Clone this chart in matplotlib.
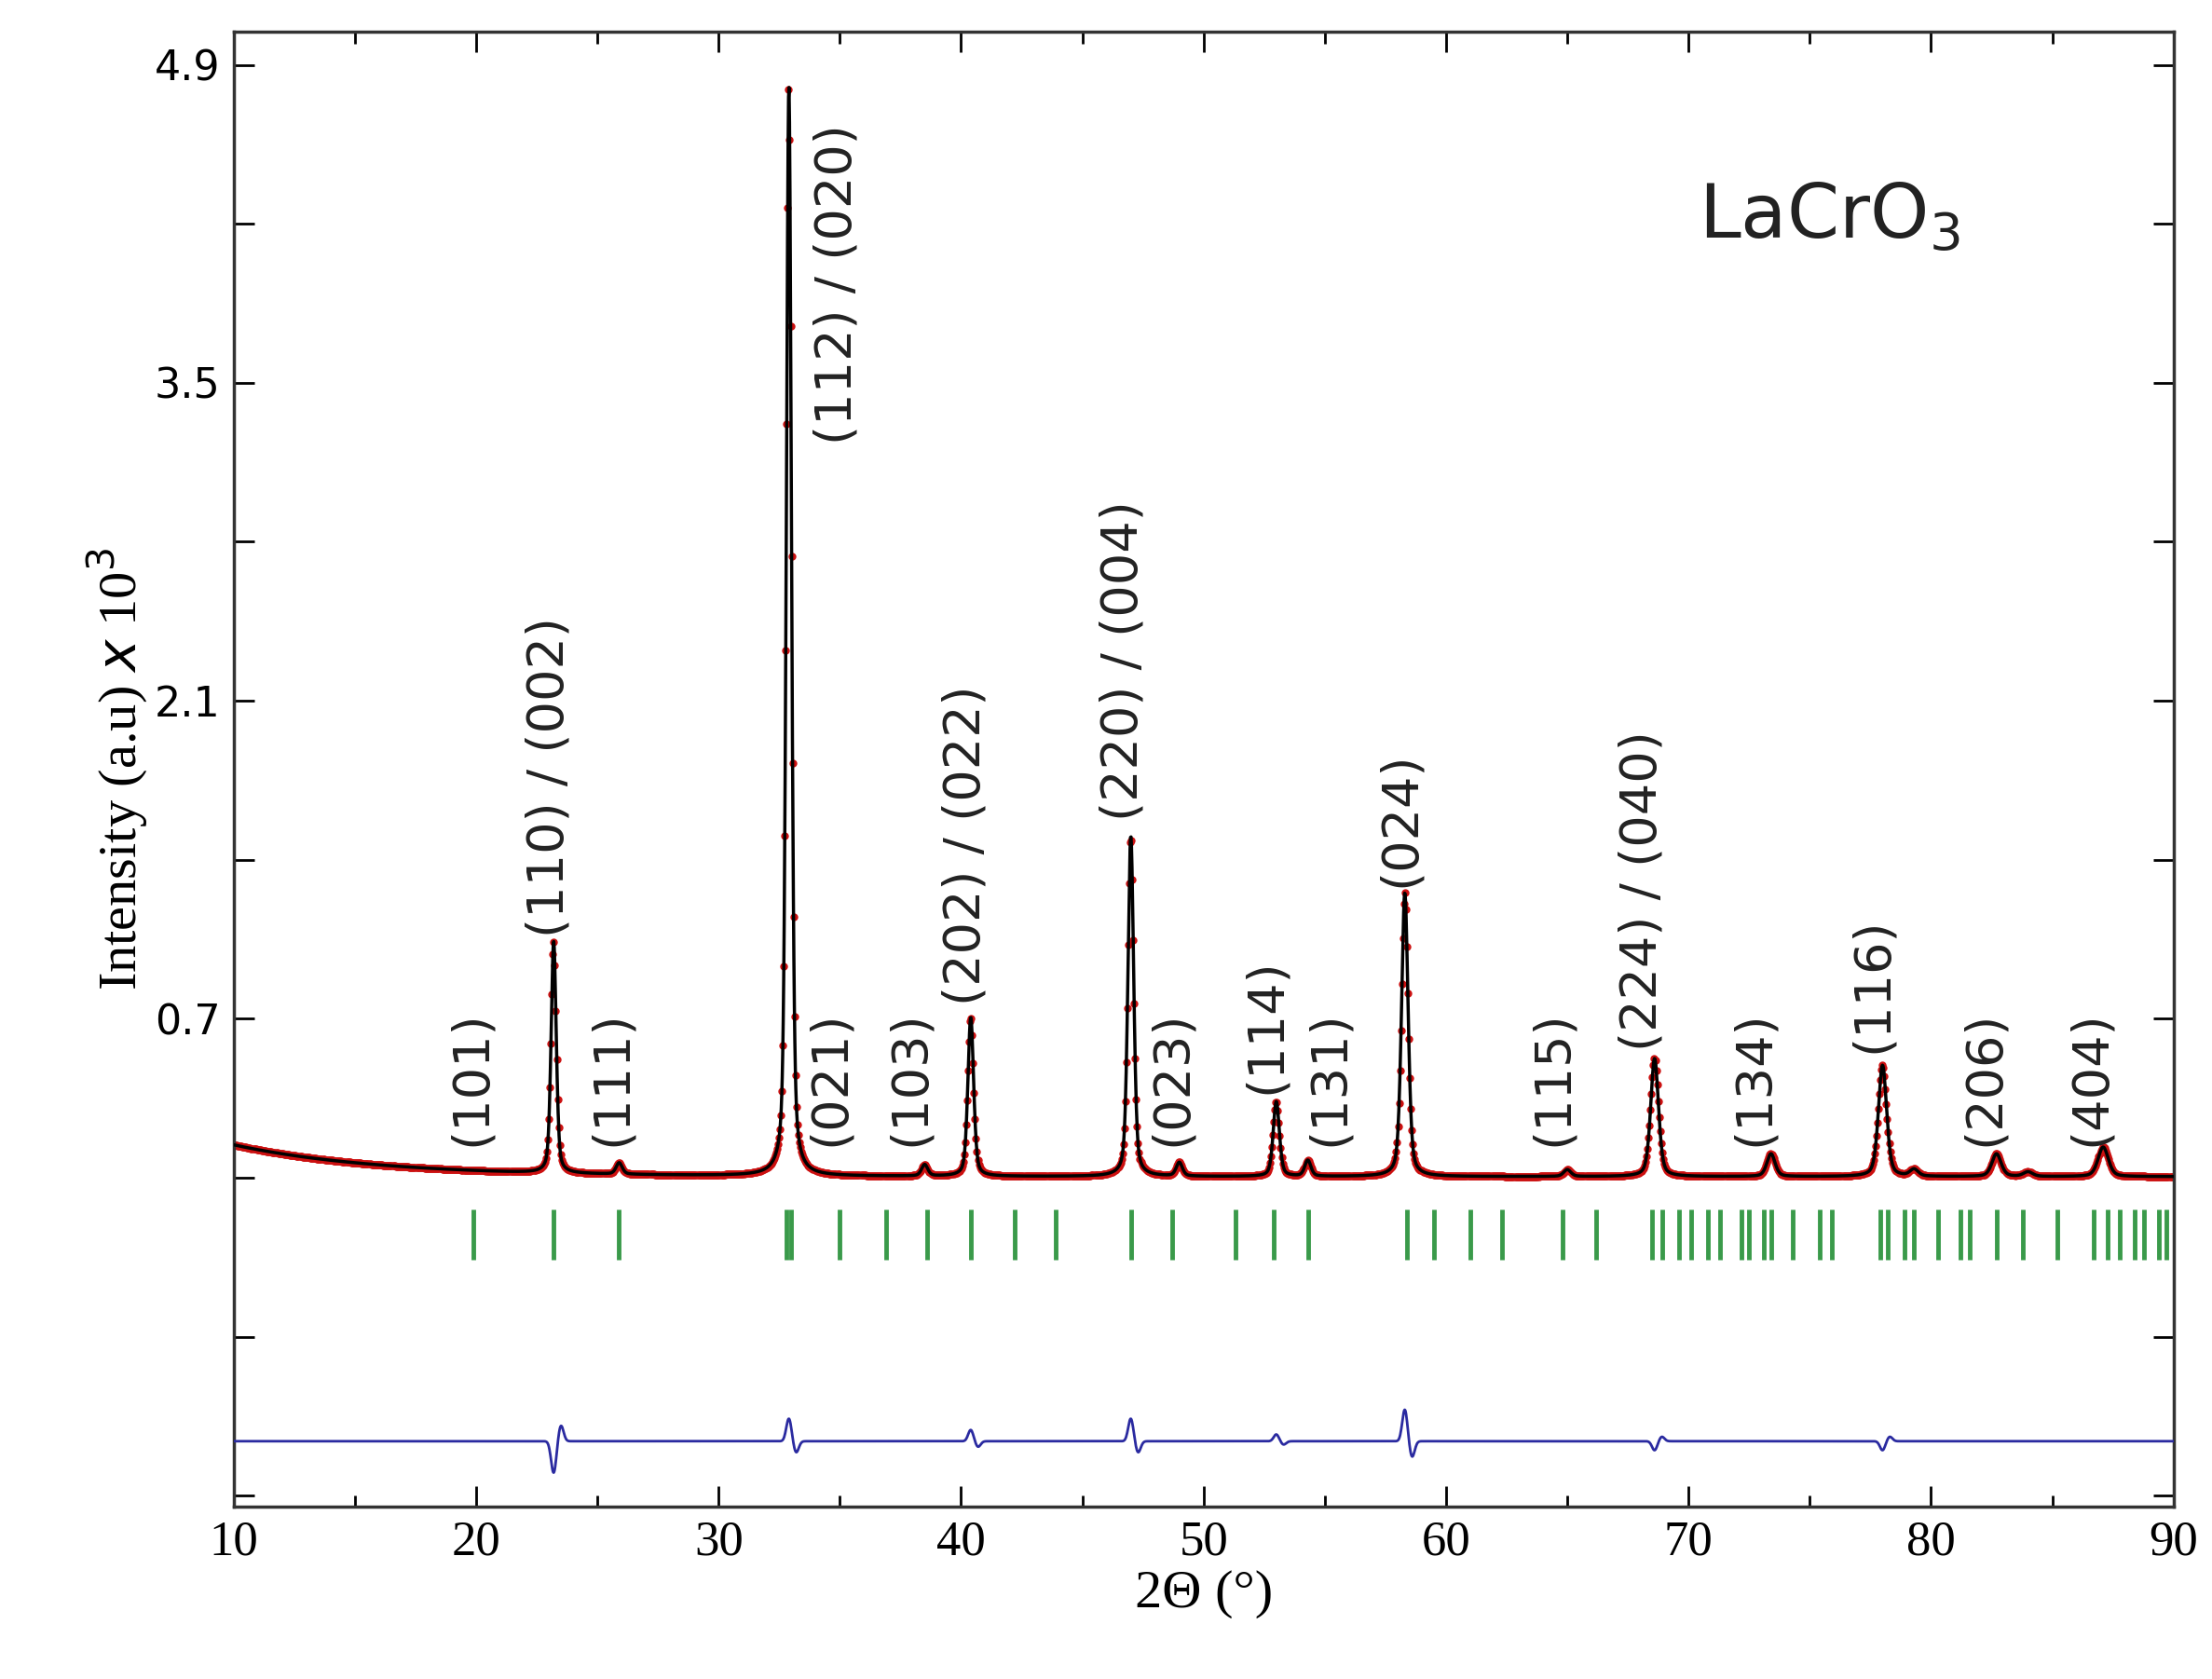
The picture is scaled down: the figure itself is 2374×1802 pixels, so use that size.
import numpy as np
import matplotlib.pyplot as plt
from matplotlib.ticker import MultipleLocator

# peak positions (2theta), heights, widths (FWHM, deg)
peak_pos = [23.2, 25.9, 32.9, 38.5, 40.4, 47.0, 49.0, 53.0, 54.3, 58.3, 65.0, 68.6, 73.4, 78.0, 79.3, 82.7, 84.0, 87.1]
peak_h = [1.02, 0.05, 4.80, 0.05, 0.70, 1.50, 0.06, 0.33, 0.07, 1.25, 0.03, 0.52, 0.10, 0.49, 0.03, 0.10, 0.02, 0.13]
peak_w = [0.25, 0.3, 0.25, 0.3, 0.28, 0.28, 0.3, 0.3, 0.3, 0.32, 0.35, 0.38, 0.4, 0.4, 0.4, 0.45, 0.45, 0.5]

# difference curve features: position, amplitude
diff_pos = [23.2, 32.9, 40.4, 47.0, 53.0, 58.3, 68.6, 78.0]
diff_amp = [-0.14, 0.10, 0.05, 0.10, 0.03, 0.14, -0.04, -0.04]

# Bragg reflection markers
bragg = [19.9, 23.2, 25.9, 32.8, 33.0, 35.0, 36.9, 38.6, 40.4, 42.2, 43.9, 47.0, 48.7,
         51.3, 52.9, 54.3, 58.4, 59.5, 61.0, 62.3, 64.8, 66.2, 68.5, 68.9, 69.6, 70.1,
         70.8, 71.3, 72.2, 72.5, 73.1, 73.4, 74.3, 75.4, 75.9, 77.9, 78.2, 78.9, 79.3,
         80.3, 81.2, 81.6, 82.7, 83.8, 85.2, 86.7, 87.3, 87.8, 88.4, 88.8, 89.4, 89.7]

labels = ["(101)", "(110) / (002)", "(111)", "(112) / (020)", "(021)", "(103)", "(202) / (022)",
          "(220) / (004)", "(023)", "(114)", "(131)", "(024)", "(115)", "(224) / (040)",
          "(134)", "(116)", "(206)", "(404)"]
label_x = [19.8, 23.0, 25.6, 34.9, 34.6, 37.9, 40.2, 46.7, 48.7, 52.6, 55.2, 58.1, 64.4, 68.1, 72.7, 77.6, 82.2, 86.6]
label_y = [0.14, 1.06, 0.14, 3.23, 0.14, 0.14, 0.76, 1.57, 0.14, 0.37, 0.14, 1.28, 0.14, 0.56, 0.14, 0.55, 0.14, 0.14]

x = np.linspace(10, 90, 4000)

def profile(xx):
    y = 0.14 * np.exp(-(xx - 10) / 6.0) + 0.005
    for p, h, w in zip(peak_pos, peak_h, peak_w):
        g = np.exp(-4 * np.log(2) * ((xx - p) / w) ** 2)
        l = 1 / (1 + 4 * ((xx - p) / w) ** 2)
        y += h * (0.6 * g + 0.4 * l)
    return y

calc = profile(x)
xo = np.linspace(10, 90, 2000)
obs = profile(xo)

diff = np.full_like(x, -1.16)
for p, a in zip(diff_pos, diff_amp):
    diff += a * np.exp(-((x - p) / 0.15) ** 2) - 0.5 * a * np.exp(-((x - p - 0.3) / 0.15) ** 2)

fig = plt.figure(figsize=(23.74, 18.02), dpi=100)
ax = fig.add_axes([0.1056, 0.1024, 0.877, 0.8786])

ax.plot(xo, obs, 'o', color='#cc1010', ms=5, zorder=2)
ax.plot(x, calc, color='black', lw=2.5, zorder=3)
ax.plot(x, diff, color='#2a2aa0', lw=2, zorder=3)
ax.vlines(bragg, -0.36, -0.14, color='#3a9a4a', lw=3.5)

for t, lx, ly in zip(labels, label_x, label_y):
    ax.text(lx, ly, t, rotation=90, ha='center', va='bottom', fontsize=39, color='#222222')

ax.text(0.755, 0.86, "LaCrO$_3$", transform=ax.transAxes, fontsize=58, color='#222222')

ax.set_xlim(10, 90)
ax.set_ylim(-1.45, 5.045)
ax.set_xticks(np.arange(10, 91, 10))
ax.xaxis.set_minor_locator(MultipleLocator(5))
yt = np.arange(-1.4, 5.0, 0.7)
ax.set_yticks(yt)
ax.set_yticklabels(["" if v < 0.6 or abs(round(v / 0.7)) % 2 == 0 else f"{v:.1f}" for v in yt])
ax.tick_params(which='both', direction='in', top=True, right=True, width=2)
ax.tick_params(which='major', length=16, labelsize=32, pad=10)
ax.tick_params(which='minor', length=9)
for lab in ax.get_xticklabels():
    lab.set_family('Liberation Serif')
    lab.set_fontsize(38)
for s in ax.spines.values():
    s.set_linewidth(2.5)
    s.set_color('#333333')

ax.set_xlabel("2\u0398 (\u00b0)", fontsize=42, family='Liberation Serif')
ax.set_ylabel("Intensity (a.u) $\\mathit{x}$ 10$^3$", fontsize=42, family='Liberation Serif')

fig.savefig("out.png", dpi=100)
